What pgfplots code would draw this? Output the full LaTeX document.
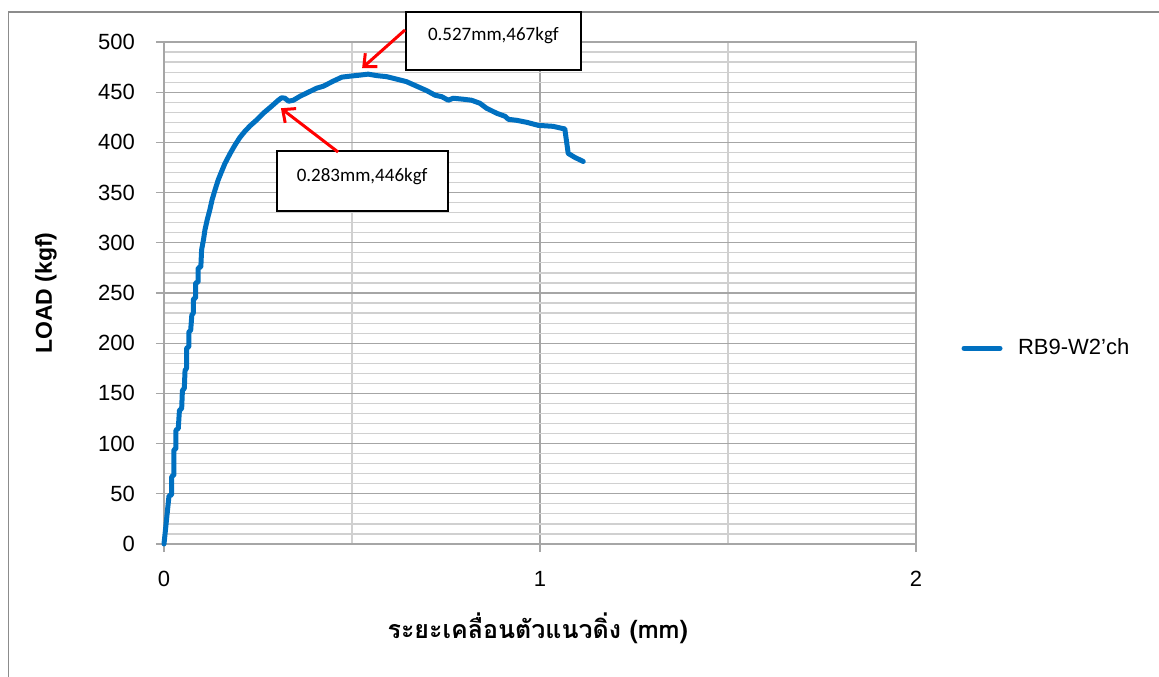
\documentclass[border=0pt]{standalone}
\usepackage{pgfplots}
\pgfplotsset{compat=1.18}
\usepackage{fontspec}
\setmainfont{Liberation Sans}
\newfontfamily\thaifont[Script=Thai]{Loma}
\newfontfamily\annfont{Carlito}
\usetikzlibrary{arrows.meta}
\definecolor{excelblue}{HTML}{0070C0}
\definecolor{majgrid}{HTML}{A6A6A6}
\definecolor{mingrid}{HTML}{D0D0D0}
\definecolor{bordergray}{HTML}{8C8C8C}
\begin{document}
\begin{tikzpicture}
\path[use as bounding box] (-82pt,-66pt) rectangle (497.5pt,272pt);
\draw[bordergray, line width=0.8pt] (-77.75pt,-70pt) -- (-77.75pt,266pt) -- (505pt,266pt);
\begin{axis}[
  at={(0,0)}, anchor=south west,
  scale only axis, width=376pt, height=251pt,
  xmin=0, xmax=2, ymin=0, ymax=500,
  xtick={0,1,2}, minor x tick num=1,
  ytick={0,50,...,500}, minor y tick num=4,
  grid=both,
  major grid style={majgrid, line width=0.6pt},
  minor grid style={mingrid, line width=0.6pt},
  axis line style={majgrid, line width=0.8pt},
  tick pos=left, tick align=outside,
  major tick length=4pt, minor tick length=0pt,
  tick style={majgrid, line width=0.6pt},
  /pgf/number format/assume math mode=true,
  ticklabel style={font=\fontsize{11}{13}\selectfont, text=black},
  yticklabel style={xshift=-7pt},
  xticklabel style={yshift=-6pt},
  xlabel={\thaifont\bfseries ระยะเคลื่อนตัวแนวดิ่ง (mm)},
  ylabel={\bfseries LOAD (kgf)},
  xlabel style={at={(axis description cs:0.497,-0.167)}, anchor=center, font=\fontsize{12.5}{15}\selectfont},
  ylabel style={at={(axis description cs:-0.157,0.5)}, anchor=center, rotate=0, font=\fontsize{11.5}{13}\selectfont},
  legend style={at={(1.052,0.39)}, anchor=west, draw=none, fill=none, font=\fontsize{11}{13}\selectfont},
  legend cell align=left,
  legend image code/.code={\draw[#1, line width=2.5pt] (0pt,0pt) -- (18pt,0pt);\path[draw=none] (0pt,0pt) -- (25pt,0pt);},
  clip=false,
]
\addplot[excelblue, line width=2.5pt, line join=round, line cap=round] coordinates {
(0,0) (0.0133,48) (0.0204,49) (0.0204,67) (0.0266,69) (0.0266,94) (0.0319,95)
(0.0319,113.5) (0.038,115) (0.041,133) (0.047,135) (0.049,153) (0.054,155)
(0.056,173) (0.060,175) (0.060,195) (0.066,196.5) (0.066,211) (0.071,213)
(0.074,228) (0.078,230) (0.078,244) (0.084,245) (0.084,260) (0.091,261)
(0.091,275) (0.098,276) (0.100,293) (0.105,303) (0.109,313) (0.115,323)
(0.122,333) (0.128,343) (0.136,353) (0.144,362.5) (0.151,369) (0.162,379)
(0.176,389) (0.189,397.5) (0.202,405) (0.215,411) (0.229,416.5) (0.247,422.5)
(0.264,429) (0.286,436) (0.304,442) (0.313,444.5) (0.322,444) (0.331,441)
(0.344,442) (0.362,446) (0.384,450) (0.406,454) (0.424,456) (0.450,461)
(0.473,465) (0.495,466) (0.521,467) (0.543,468) (0.566,466.5) (0.592,465.5)
(0.619,463) (0.645,460.5) (0.672,456) (0.699,451.5) (0.721,447) (0.739,445.5)
(0.756,442) (0.769,444) (0.796,443) (0.818,442) (0.840,439) (0.858,434)
(0.885,429) (0.907,426) (0.916,423) (0.938,422) (0.965,420) (0.995,417)
(1.035,416) (1.058,414) (1.066,413.5) (1.075,389) (1.093,385) (1.115,381)
};
\addlegendentry{RB9-W2'ch}
% annotation boxes
\draw[black, line width=1pt, fill=white] (axis cs:0.644,530) rectangle (axis cs:1.109,472);
\node[font=\annfont\fontsize{9.5}{11}\selectfont] at (axis cs:0.876,506) {0.527mm,467kgf};
\draw[black, line width=1pt, fill=white] (axis cs:0.300,391.4) rectangle (axis cs:0.755,331.7);
\node[font=\annfont\fontsize{9.5}{11}\selectfont] at (axis cs:0.527,366.5) {0.283mm,446kgf};
% arrows
\draw[red, line width=1.5pt, -{Straight Barb[length=5pt,width=9pt]}] (axis cs:0.641,512) -- (axis cs:0.527,474);
\draw[red, line width=1.5pt, -{Straight Barb[length=5pt,width=9pt]}] (axis cs:0.463,390.4) -- (axis cs:0.311,434);
\end{axis}
\end{tikzpicture}
\end{document}
